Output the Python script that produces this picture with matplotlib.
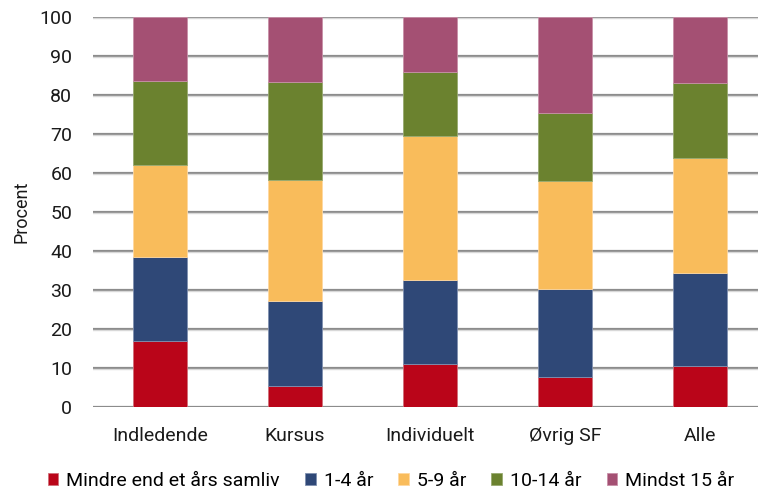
import matplotlib
matplotlib.use("Agg")
import matplotlib.pyplot as plt
import numpy as np

plt.rcParams['font.family'] = ['Roboto', 'DejaVu Sans']

# data (percent per segment)
categories = ["Indledende", "Kursus", "Individuelt", "Øvrig SF", "Alle"]
series_names = ["Mindre end et års samliv", "1-4 år", "5-9 år", "10-14 år", "Mindst 15 år"]
mindre_end_1 = [16.7, 5.3, 10.9, 7.7, 10.3]
aar_1_4 = [21.8, 21.9, 21.6, 22.5, 24.1]
aar_5_9 = [23.6, 30.9, 37.0, 27.6, 29.3]
aar_10_14 = [21.5, 25.1, 16.4, 17.5, 19.4]
mindst_15 = [16.4, 16.8, 14.1, 24.7, 16.9]
colors = ["#BA0519", "#2F4877", "#F9BC5B", "#6B822F", "#A45073"]
edges = ["#D0707A", "#8090B0", "#FFD8A0", "#98AA70", "#C890A8"]

fig = plt.figure(figsize=(7.58, 4.91), dpi=100)
ax = fig.add_axes([92.5 / 758, 1 - 406.5 / 491, 675 / 758, 389.5 / 491])

x = np.arange(len(categories))
bottom = np.zeros(len(categories))
for vals, name, c, ec in zip([mindre_end_1, aar_1_4, aar_5_9, aar_10_14, mindst_15],
                             series_names, colors, edges):
    ax.bar(x, vals, 0.4, bottom=bottom, color=c, edgecolor=ec, linewidth=0.6,
           label=name, zorder=3)
    bottom += np.array(vals)

ax.set_xlim(-0.5, len(categories) - 0.5)
ax.set_ylim(0, 100)
ax.set_yticks(np.arange(0, 101, 10))
ax.yaxis.grid(True, color="#8C8C8C", linewidth=1.6, zorder=0)
for y in np.arange(0, 101, 10):
    ax.axhline(y - 0.35, color="#D8D8D8", linewidth=1.0, zorder=1)
ax.set_axisbelow(True)
for s in ax.spines.values():
    s.set_visible(False)
ax.tick_params(axis="both", length=0, labelsize=14, colors="#1A1A1A")
ax.tick_params(axis="y", pad=14.5)
ax.tick_params(axis="x", pad=15)
ax.set_xticks(x)
ax.set_xticklabels(categories)
ax.set_ylabel("Procent", fontsize=13, color="#1A1A1A")
ax.yaxis.set_label_coords(-0.092, 0.5)

fig.legend(loc="center", bbox_to_anchor=(391 / 758, 1 - 481 / 491), ncol=5,
           frameon=False, fontsize=14, handlelength=0.55, handleheight=0.55,
           handletextpad=0.4, columnspacing=1.3, borderaxespad=0)

fig.savefig("out.png", dpi=100)
